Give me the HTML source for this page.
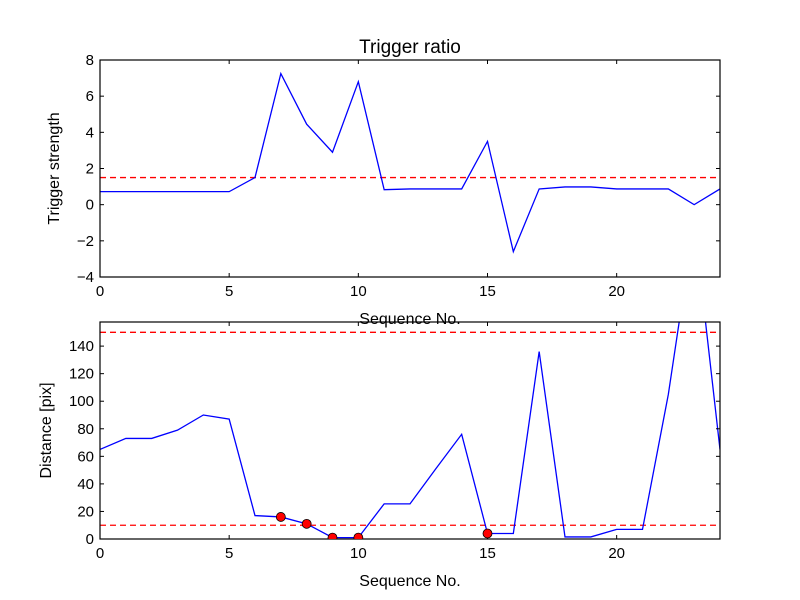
<!DOCTYPE html>
<html><head><meta charset="utf-8"><style>
body{margin:0;background:#fff;}
svg{display:block;font-family:"Liberation Sans","DejaVu Sans",sans-serif;}
</style></head><body>
<svg id="chart" width="800" height="600" viewBox="0 0 800 600">
<rect width="800" height="600" fill="#fff"/>
<defs>
<clipPath id="c1"><rect x="100" y="60" width="620" height="217"/></clipPath>
<clipPath id="c2"><rect x="100" y="322" width="620" height="217"/></clipPath>
</defs>
<g id="g1"></g>
<g id="g2"></g>
</svg>
<script>
const seq = [0,1,2,3,4,5,6,7,8,9,10,11,12,13,14,15,16,17,18,19,20,21,22,23,24];
const strength = [0.72,0.72,0.72,0.72,0.72,0.72,1.5,7.25,4.45,2.9,6.8,0.83,0.87,0.87,0.87,3.5,-2.6,0.87,0.98,0.98,0.87,0.87,0.87,0.0,0.87];
const distance = [65,73,73,79,90,87,17,16,11,1,1,25.5,25.5,51,76,4,4,136,1.5,1.5,7,7,105,230,65];
const flaggedIdx = [7,8,9,10,15];
const strengthThreshold = [1.5];
const distanceThresholds = [10,150];
const xTicks = [0,5,10,15,20];
const yTicksTop = [-4,-2,0,2,4,6,8];
const yTicksBottom = [0,20,40,60,80,100,120,140];

const NS="http://www.w3.org/2000/svg";
function mk(tag,attrs,parent,text){const e=document.createElementNS(NS,tag);for(const k in attrs)e.setAttribute(k,attrs[k]);if(text!==undefined)e.textContent=text;parent.appendChild(e);return e;}

function panel(g,top,ymin,ymax,yTicks,vals,thr,clip,ylabel,title){
  const L=100,R=720,T=top,B=top+217;
  const xs=v=>L+(v-0)/24*(R-L);
  const ys=v=>B-(v-ymin)/(ymax-ymin)*(B-T);
  for(const t of thr){
    const l=mk('line',{x1:L,x2:R,y1:ys(t),y2:ys(t),stroke:'#ff0000','stroke-width':1.3,'stroke-dasharray':'6,4'},g);
    
    
  }
  const pts=vals.map((v,i)=>xs(seq[i])+','+ys(v)).join(' ');
  const pl=mk('polyline',{points:pts,fill:'none',stroke:'#0000ff','stroke-width':1.3,'clip-path':'url(#'+clip+')'},g);
  
  
  mk('rect',{x:L,y:T,width:R-L,height:B-T,fill:'none',stroke:'#000','stroke-width':1.2},g);
  for(const t of xTicks){
    mk('line',{x1:xs(t),x2:xs(t),y1:B,y2:B-4,stroke:'#000'},g);
    mk('line',{x1:xs(t),x2:xs(t),y1:T,y2:T+4,stroke:'#000'},g);
    const tx=mk('text',{x:xs(t),y:B+19,'font-size':15,'text-anchor':'middle'},g,String(t));
    
    
  }
  for(const t of yTicks){
    const y=ys(t);
    mk('line',{x1:L,x2:L+4,y1:y,y2:y,stroke:'#000'},g);
    mk('line',{x1:R,x2:R-4,y1:y,y2:y,stroke:'#000'},g);
    const tx=mk('text',{x:L-6,y:y+5,'font-size':15,'text-anchor':'end'},g,(t<0?'\u2212'+(-t):String(t)));
    
    
  }
  const xl=mk('text',{x:410,y:B+47,'font-size':16,'text-anchor':'middle'},g,'Sequence No.');
  
  
  const yl=mk('text',{x:0,y:0,'font-size':16,'text-anchor':'middle',transform:'translate('+(ylabel.x)+','+((T+B)/2)+') rotate(-90)'},g,ylabel.t);
  
  
  if(title){
    const ti=mk('text',{x:410,y:T-7,'font-size':19,'text-anchor':'middle'},g,title);
    
    
  }
  return {xs,ys};
}
const g1=document.getElementById('g1'),g2=document.getElementById('g2');
panel(g1,60,-4,8,yTicksTop,strength,strengthThreshold,'c1',{x:59,t:'Trigger strength'},'Trigger ratio');
const s2=panel(g2,322,0,157.5,yTicksBottom,distance,distanceThresholds,'c2',{x:51,t:'Distance [pix]'},null);
for(const i of flaggedIdx){
  const c=mk('circle',{cx:s2.xs(seq[i]),cy:s2.ys(distance[i]),r:4.5,fill:'#ff0000',stroke:'#000','stroke-width':0.8,'clip-path':'url(#c2)'},g2);
  
  
}
</script>
</body></html>
